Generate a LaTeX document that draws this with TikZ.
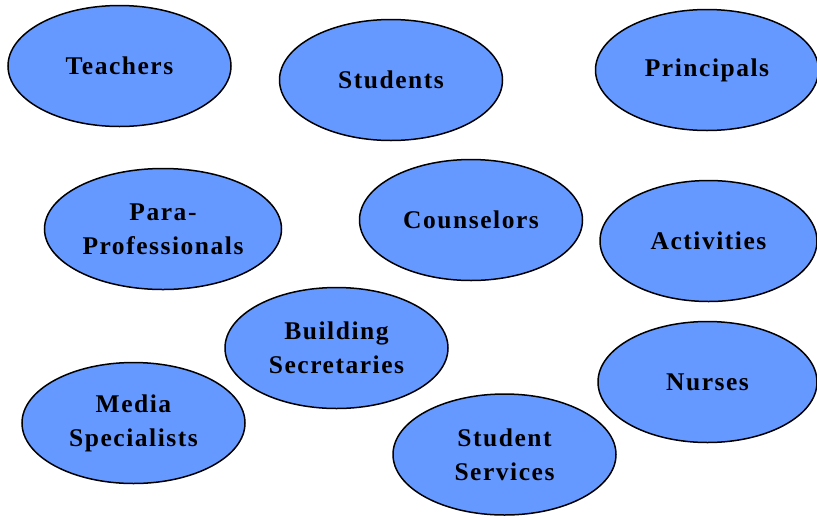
\documentclass[tikz,border=0pt]{standalone}
\usepackage{fontspec}
\setmainfont[LetterSpace=6]{Liberation Serif}
\usetikzlibrary{shapes.geometric}

\definecolor{roleblue}{RGB}{102,153,255}

\tikzset{
    role/.style={ellipse, draw=black, line width=1.5pt, fill=roleblue,
        minimum width=223pt, minimum height=121pt, inner sep=0pt,
        align=center, font=\fontsize{25.5}{34}\selectfont\bfseries}
}

\begin{document}
\begin{tikzpicture}[x=1pt, y=-1pt]
    \useasboundingbox (0,0) rectangle (817,515);

    % Top row
    \node[role] (teachers)   at (119.5,66) {Teachers};
    \node[role] (students)   at (391,80)   {Students};
    \node[role] (principals) at (707,70)   {Principals};

    % Middle row
    \node[role, minimum width=237pt] (para) at (163,229) {Para-\\Professionals};
    \node[role] (counselors) at (471,220)  {Counselors};
    \node[role, minimum width=217pt] (activities) at (708.5,241) {Activities};

    % Bottom rows
    \node[role] (secretaries) at (336.5,348) {Building\\Secretaries};
    \node[role, minimum width=219pt] (nurses) at (707.5,382) {Nurses};
    \node[role] (media)       at (133.5,423) {Media\\Specialists};
    \node[role] (services)    at (504.5,454.5) {Student\\Services};
\end{tikzpicture}
\end{document}
